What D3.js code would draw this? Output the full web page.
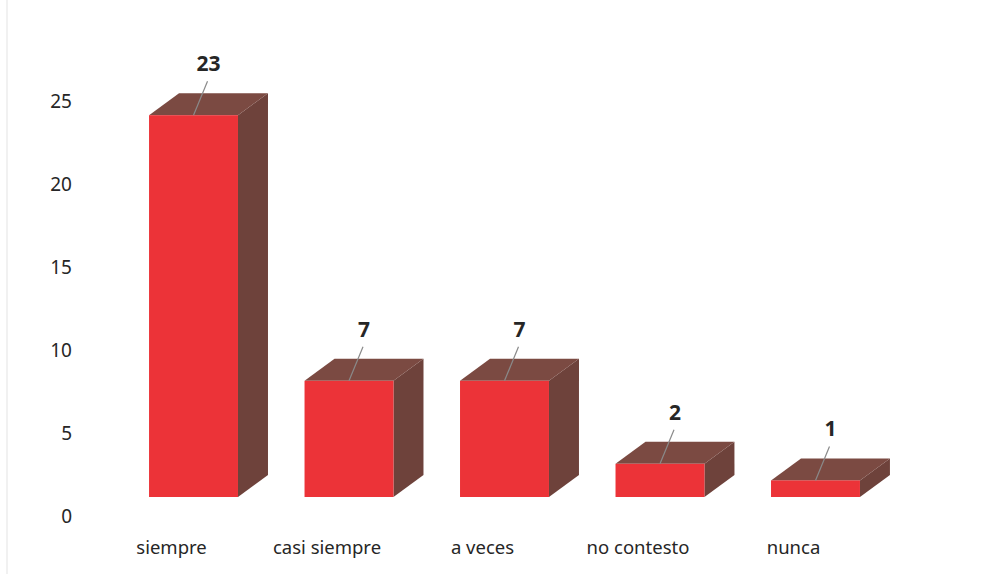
<!DOCTYPE html>
<html>
<head>
<meta charset="utf-8">
<script src="https://cdn.jsdelivr.net/npm/d3@7"></script>
<style>
  body { margin: 0; background: #fff; }
  svg { display: block; }
</style>
</head>
<body>
<script>
const categories = ["siempre", "casi siempre", "a veces", "no contesto", "nunca"];
const values = [23, 7, 7, 2, 1];
const yTicks = [0, 5, 10, 15, 20, 25];

const width = 992;
const height = 574;
const depthX = 30;
const depthY = -22;
const frontColor = "#ec3338";
const topColor = "#7b4a42";
const sideColor = "#6e423b";
const fontFamily = "'Noto Sans', 'Open Sans', sans-serif";

const svg = d3.select("body").append("svg")
    .attr("width", width)
    .attr("height", height);

// faint scan border
svg.append("line")
    .attr("x1", 7).attr("x2", 7).attr("y1", 0).attr("y2", height)
    .attr("stroke", "#ececec").attr("stroke-width", 1.5);

const x = d3.scaleBand()
    .domain(categories)
    .range([80, 929])
    .paddingInner(0.428)
    .paddingOuter(0.444);

const y = d3.scaleLinear()
    .domain([0, 25])
    .range([497, 82]);

// Y axis labels (no lines)
const axis = svg.append("g")
    .attr("transform", "translate(72, 19)")
    .call(d3.axisLeft(y).tickValues(yTicks).tickSize(0).tickPadding(0));
axis.select(".domain").remove();
axis.selectAll("text")
    .style("font-family", fontFamily)
    .style("font-size", "19px")
    .attr("fill", "#262626")
    .attr("dy", "0.35em");

const bars = svg.append("g");

categories.forEach((cat, i) => {
    const x0 = x(cat);
    const x1 = x0 + x.bandwidth();
    const yTop = y(values[i]);
    const yBase = y(0);
    const g = bars.append("g");

    // side face
    g.append("path")
        .attr("d", `M${x1},${yTop} L${x1 + depthX},${yTop + depthY} L${x1 + depthX},${yBase + depthY} L${x1},${yBase} Z`)
        .attr("fill", sideColor);

    // top face
    g.append("path")
        .attr("d", `M${x0},${yTop} L${x0 + depthX},${yTop + depthY} L${x1 + depthX},${yTop + depthY} L${x1},${yTop} Z`)
        .attr("fill", topColor);

    // front face
    g.append("rect")
        .attr("x", x0)
        .attr("y", yTop)
        .attr("width", x.bandwidth())
        .attr("height", yBase - yTop)
        .attr("fill", frontColor);

    // leader line + value label
    const cx = x0 + x.bandwidth() / 2;
    g.append("line")
        .attr("x1", cx).attr("y1", yTop)
        .attr("x2", cx + 14).attr("y2", yTop - 34)
        .attr("stroke", "#8a8a8a")
        .attr("stroke-width", 1.2);
    g.append("text")
        .attr("x", cx + 15)
        .attr("y", yTop - 44)
        .attr("text-anchor", "middle")
        .style("font-family", fontFamily)
        .style("font-size", "21px")
        .style("font-weight", "bold")
        .attr("fill", "#262626")
        .text(values[i]);

    // category label
    svg.append("text")
        .attr("x", cx - 22)
        .attr("y", 554)
        .attr("text-anchor", "middle")
        .style("font-family", fontFamily)
        .style("font-size", "18.5px")
        .attr("fill", "#262626")
        .text(cat);
});
</script>
</body>
</html>
